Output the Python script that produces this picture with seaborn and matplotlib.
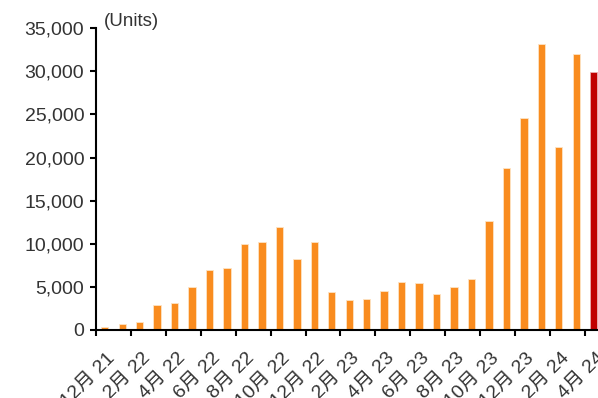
import numpy as np
import pandas as pd
import matplotlib
matplotlib.use('Agg')
import matplotlib.pyplot as plt
import seaborn as sns

months = ['12月 21',
          '1月 22', '2月 22', '3月 22', '4月 22', '5月 22', '6月 22',
          '7月 22', '8月 22', '9月 22', '10月 22', '11月 22', '12月 22',
          '1月 23', '2月 23', '3月 23', '4月 23', '5月 23', '6月 23',
          '7月 23', '8月 23', '9月 23', '10月 23', '11月 23', '12月 23',
          '1月 24', '2月 24', '3月 24', '4月 24']
units = [300, 650, 900, 2870, 3140, 4960, 6940, 7170, 10000, 10150, 11980, 8220,
         10150, 4420, 3450, 3570, 4570, 5580, 5430, 4150, 5000, 5930, 12670,
         18840, 24600, 33140, 21240, 32000, 29880]

orange = '#F98C1F'
red = '#C00000'
text_color = '#333333'

sns.set_theme(style='white')
plt.rcParams['font.family'] = ['Liberation Sans', 'Noto Sans CJK SC', 'DejaVu Sans']

df = pd.DataFrame({'month': months, 'units': units})
colors = [orange] * (len(months) - 1) + [red]

fig = plt.figure(figsize=(5.98, 3.98), dpi=100)
ax = fig.add_axes([0.1605, 0.171, 1.0075 - 0.1605, 0.929 - 0.171])

sns.barplot(data=df, x='month', y='units', hue='month', palette=colors,
            saturation=1, legend=False, width=0.42, ax=ax,
            edgecolor='#FDE3C4', linewidth=0.6)
# last bar edge in its own colour
ax.patches[-1].set_edgecolor('#E8B0B0')

ax.set_xlim(-0.5, len(months) - 0.5)
ax.set_ylim(0, 35000)
ax.set_yticks(np.arange(0, 35001, 5000))
ax.set_yticklabels([f'{v:,}' for v in range(0, 35001, 5000)],
                   fontsize=14, color=text_color)

# boundary ticks every two months, labels under the even months
ax.set_xticks(np.arange(-0.5, len(months) - 1, 2))
ax.set_xticklabels([])
ax.set_xticks(np.arange(0.1, len(months), 2), minor=True)
ax.set_xticklabels(months[::2], minor=True, rotation=45, ha='right',
                   va='top', rotation_mode='anchor', fontsize=14,
                   color=text_color)
ax.tick_params(axis='x', which='minor', length=0, pad=14)
ax.tick_params(axis='x', which='major', length=4.5, width=1.5, color='black',
               direction='out', bottom=True)
ax.tick_params(axis='y', length=4.5, width=1.5, color='black',
               direction='out', left=True, pad=4)

ax.set_xlabel('')
ax.set_ylabel('')
for side in ['top', 'right']:
    ax.spines[side].set_visible(False)
for side in ['left', 'bottom']:
    ax.spines[side].set_color('black')
    ax.spines[side].set_linewidth(1.5)
ax.grid(False)

fig.text(104 / 598, 1 - 22 / 398, '(Units)', fontsize=13.5, color=text_color,
         ha='left', va='center')

fig.savefig('out.png', dpi=100)
